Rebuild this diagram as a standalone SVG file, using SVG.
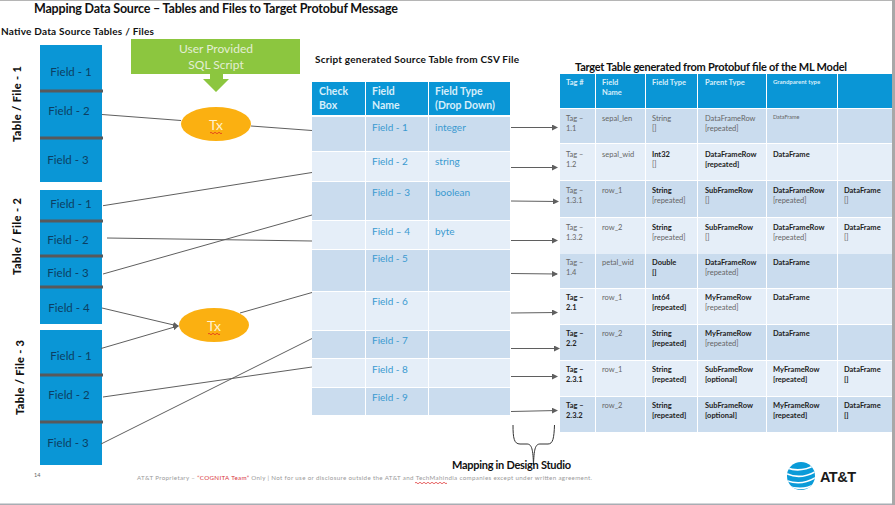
<svg xmlns="http://www.w3.org/2000/svg" width="895" height="505" viewBox="0 0 895 505">
<defs>
<style>
text{font-family:Lato,"Liberation Sans",sans-serif}
.title{font-size:12.5px;font-weight:700;fill:#111}
.sub{font-size:10px;font-weight:700;fill:#111}
.side{font-size:11px;font-weight:900;fill:#111}
.blue{fill:#0a96d6}
.sep{stroke:#58595b;stroke-width:3}
.fld{font-size:11.5px;fill:#0c3f63;text-anchor:middle}
.hc{font-size:10.5px;font-weight:700;fill:#d6eefa}
.d{fill:#cadcee}.l{fill:#e5eef8}.h{fill:#0a96d6}
.c{font-size:10px;fill:#3a9ad0}
.hr{font-size:7.5px;font-weight:700;fill:#d6eefa}
.g{font-size:7.5px;fill:#666}
.b{font-size:7.5px;font-weight:700;fill:#222}
.tx{font-size:14px;fill:#fff3d0;text-anchor:middle}
.cn{fill:none;stroke:#5f5f5f;stroke-width:1}
.squig{fill:none;stroke:#d22;stroke-width:.7}
</style>
<marker id="arr" markerWidth="6" markerHeight="6" refX="5" refY="3" orient="auto" markerUnits="userSpaceOnUse"><path d="M0 0L6 3L0 6Z" fill="#5f5f5f"/></marker>
<clipPath id="globe"><circle cx="801" cy="476" r="14"/></clipPath>
</defs>
<rect width="895" height="505" fill="#fff"/>
<rect x="0" y="0" width="895" height="1" fill="#b5b5b5"/>
<rect x="0" y="503.500" width="895" height="1.500" fill="#a8adb3"/>
<rect x="892" y="0" width="3" height="505" fill="#a8a8a8"/>

<g id="headings">
<text class="title" x="34" y="13" textLength="364">Mapping Data Source – Tables and Files to Target Protobuf Message</text>
<text class="sub" x="1" y="35" textLength="153">Native Data Source Tables / Files</text>
<text class="sub" x="315" y="63" textLength="204">Script generated Source Table from CSV File</text>
<text class="title" style="font-size:11px" x="575" y="71" textLength="272">Target Table generated from Protobuf file of the ML Model</text>
<text class="side" transform="translate(21,142) rotate(-90)" textLength="76">Table / File - 1</text>
<text class="side" transform="translate(21,275) rotate(-90)" textLength="77">Table / File - 2</text>
<text class="side" transform="translate(24,415) rotate(-90)" textLength="75">Table / File - 3</text>
</g>

<g id="table-1">
<rect class="blue" x="40" y="45" width="62" height="137"/>
<line class="sep" x1="40" y1="91" x2="103" y2="91"/><line class="sep" x1="40" y1="138" x2="103" y2="138"/>
<text class="fld" x="71" y="76">Field - 1</text><text class="fld" x="69" y="115">Field - 2</text><text class="fld" x="68" y="164">Field - 3</text>
</g>
<g id="table-2">
<rect class="blue" x="40" y="190" width="62" height="134"/>
<line class="sep" x1="40" y1="221" x2="103" y2="221"/><line class="sep" x1="40" y1="256" x2="103" y2="256"/><line class="sep" x1="40" y1="287" x2="103" y2="287"/>
<text class="fld" x="71" y="208">Field - 1</text><text class="fld" x="68" y="244">Field - 2</text><text class="fld" x="68" y="277">Field - 3</text><text class="fld" x="69" y="312">Field - 4</text>
</g>
<g id="table-3">
<rect class="blue" x="40" y="330" width="62" height="135"/>
<line class="sep" x1="40" y1="375" x2="103" y2="375"/><line class="sep" x1="40" y1="422" x2="103" y2="422"/>
<text class="fld" x="71" y="360">Field - 1</text><text class="fld" x="69" y="399">Field - 2</text><text class="fld" x="68" y="447">Field - 3</text>
</g>

<g id="sql-script">
<path d="M131 39H300V74H223V79H229L216 92L203 79H210V74H131Z" fill="#8cc63f"/>
<text x="216" y="53" text-anchor="middle" font-size="12" fill="#e3eed4">User Provided</text>
<text x="216" y="69" text-anchor="middle" font-size="12" fill="#e3eed4">SQL Script</text>
</g>
<g id="tx-1">
<ellipse cx="216" cy="124" rx="35" ry="17" fill="#fbb011"/>
<text class="tx" x="216" y="130">Tx</text>
<path class="squig" d="M210 133q1 -1.500 2 0t2 0t2 0t2 0t2 0t2 0"/>
</g>
<g id="tx-2">
<ellipse cx="214" cy="325" rx="35" ry="17" fill="#fbb011"/>
<text class="tx" x="214" y="331">Tx</text>
<path class="squig" d="M208 334q1 -1.500 2 0t2 0t2 0t2 0t2 0t2 0"/>
</g>

<g id="source-table">
<rect class="h" x="312" y="82" width="53" height="33"/><rect class="h" x="366" y="82" width="62" height="33"/><rect class="h" x="429" y="82" width="81" height="33"/>
<text class="hc" x="319" y="95">Check</text><text class="hc" x="319" y="109">Box</text>
<text class="hc" x="372" y="95">Field</text><text class="hc" x="372" y="109">Name</text>
<text class="hc" x="435" y="95">Field Type</text><text class="hc" x="435" y="109">(Drop Down)</text>
<rect class="d" x="312" y="117" width="53" height="34"/><rect class="d" x="366" y="117" width="62" height="34"/><rect class="d" x="429" y="117" width="81" height="34"/>
<rect class="l" x="312" y="152" width="53" height="29"/><rect class="l" x="366" y="152" width="62" height="29"/><rect class="l" x="429" y="152" width="81" height="29"/>
<rect class="d" x="312" y="182" width="53" height="38"/><rect class="d" x="366" y="182" width="62" height="38"/><rect class="d" x="429" y="182" width="81" height="38"/>
<rect class="l" x="312" y="221" width="53" height="28"/><rect class="l" x="366" y="221" width="62" height="28"/><rect class="l" x="429" y="221" width="81" height="28"/>
<rect class="d" x="312" y="250" width="53" height="41"/><rect class="d" x="366" y="250" width="62" height="41"/><rect class="d" x="429" y="250" width="81" height="41"/>
<rect class="l" x="312" y="292" width="53" height="38"/><rect class="l" x="366" y="292" width="62" height="38"/><rect class="l" x="429" y="292" width="81" height="38"/>
<rect class="d" x="312" y="331" width="53" height="27"/><rect class="d" x="366" y="331" width="62" height="27"/><rect class="d" x="429" y="331" width="81" height="27"/>
<rect class="l" x="312" y="359" width="53" height="28"/><rect class="l" x="366" y="359" width="62" height="28"/><rect class="l" x="429" y="359" width="81" height="28"/>
<rect class="d" x="312" y="388" width="53" height="27"/><rect class="d" x="366" y="388" width="62" height="27"/><rect class="d" x="429" y="388" width="81" height="27"/>
<text class="c" x="372" y="130.500">Field - 1</text><text class="c" x="435" y="130.500">integer</text>
<text class="c" x="372" y="165">Field - 2</text><text class="c" x="435" y="165">string</text>
<text class="c" x="372" y="195.500">Field – 3</text><text class="c" x="435" y="195.500">boolean</text>
<text class="c" x="372" y="234.500">Field – 4</text><text class="c" x="435" y="234.500">byte</text>
<text class="c" x="372" y="262">Field - 5</text>
<text class="c" x="372" y="305">Field - 6</text>
<text class="c" x="372" y="344">Field - 7</text>
<text class="c" x="372" y="373">Field - 8</text>
<text class="c" x="372" y="401">Field - 9</text>
</g>

<g id="target-table">
<rect class="h" x="560" y="74" width="332" height="34"/>
<rect class="d" x="560" y="109" width="332" height="34"/>
<rect class="l" x="560" y="144" width="332" height="36"/>
<rect class="d" x="560" y="181" width="332" height="36"/>
<rect class="l" x="560" y="218" width="332" height="36"/>
<rect class="d" x="560" y="254" width="332" height="34"/>
<rect class="l" x="560" y="289" width="332" height="35"/>
<rect class="d" x="560" y="325" width="332" height="35"/>
<rect class="l" x="560" y="361" width="332" height="35"/>
<rect class="d" x="560" y="397" width="332" height="35"/>
<path d="M595.500 74V432M645.500 74V432M697.500 74V432M766.500 74V432M837.500 74V432" stroke="#fff" stroke-width="1" fill="none"/>
<text class="hr" x="566" y="85">Tag #</text>
<text class="hr" x="602" y="85">Field</text><text class="hr" x="602" y="95">Name</text>
<text class="hr" x="652" y="85">Field Type</text>
<text class="hr" x="705" y="85">Parent Type</text>
<text class="hr" style="font-size:6px" x="773" y="84">Grandparent type</text>

<text class="g" x="566" y="120.500">Tag –</text><text class="g" x="566" y="130.500">1.1</text>
<text class="g" x="602" y="120.500">sepal_len</text>
<text class="g" x="652" y="120.500">String</text><text class="g" x="652" y="130.500">[]</text>
<text class="g" x="705" y="120.500">DataFrameRow</text><text class="g" x="705" y="130.500">[repeated]</text>
<text class="g" style="font-size:5.500px" x="773" y="119">DataFrame</text>

<text class="g" x="566" y="156.500">Tag –</text><text class="g" x="566" y="166.500">1.2</text>
<text class="g" x="602" y="156.500">sepal_wid</text>
<text class="b" x="652" y="156.500">Int32</text><text class="g" x="652" y="166.500">[]</text>
<text class="b" x="705" y="156.500">DataFrameRow</text><text class="b" x="705" y="166.500">[repeated]</text>
<text class="b" x="773" y="156.500">DataFrame</text>

<text class="g" x="566" y="192.500">Tag –</text><text class="g" x="566" y="202.500">1.3.1</text>
<text class="g" x="602" y="192.500">row_1</text>
<text class="b" x="652" y="192.500">String</text><text class="g" x="652" y="202.500">[repeated]</text>
<text class="b" x="705" y="192.500">SubFrameRow</text><text class="g" x="705" y="202.500">[]</text>
<text class="b" x="773" y="192.500">DataFrameRow</text><text class="g" x="773" y="202.500">[repeated]</text>
<text class="b" x="844" y="192.500">DataFrame</text><text class="g" x="844" y="202.500">[]</text>

<text class="g" x="566" y="229.500">Tag –</text><text class="g" x="566" y="239.500">1.3.2</text>
<text class="g" x="602" y="229.500">row_2</text>
<text class="b" x="652" y="229.500">String</text><text class="g" x="652" y="239.500">[repeated]</text>
<text class="b" x="705" y="229.500">SubFrameRow</text><text class="g" x="705" y="239.500">[]</text>
<text class="b" x="773" y="229.500">DataFrameRow</text><text class="g" x="773" y="239.500">[repeated]</text>
<text class="b" x="844" y="229.500">DataFrame</text><text class="g" x="844" y="239.500">[]</text>

<text class="g" x="566" y="265">Tag –</text><text class="g" x="566" y="275">1.4</text>
<text class="g" x="602" y="265">petal_wid</text>
<text class="b" x="652" y="265">Double</text><text class="b" x="652" y="275">[]</text>
<text class="b" x="705" y="265">DataFrameRow</text><text class="g" x="705" y="275">[repeated]</text>
<text class="b" x="773" y="265">DataFrame</text>

<text class="b" x="566" y="300">Tag –</text><text class="b" x="566" y="310">2.1</text>
<text class="g" x="602" y="300">row_1</text>
<text class="b" x="652" y="300">Int64</text><text class="b" x="652" y="310">[repeated]</text>
<text class="b" x="705" y="300">MyFrameRow</text><text class="g" x="705" y="310">[repeated]</text>
<text class="b" x="773" y="300">DataFrame</text>

<text class="b" x="566" y="336">Tag –</text><text class="b" x="566" y="346">2.2</text>
<text class="g" x="602" y="336">row_2</text>
<text class="b" x="652" y="336">String</text><text class="b" x="652" y="346">[repeated]</text>
<text class="b" x="705" y="336">MyFrameRow</text><text class="g" x="705" y="346">[repeated]</text>
<text class="b" x="773" y="336">DataFrame</text>

<text class="b" x="566" y="372">Tag –</text><text class="b" x="566" y="382">2.3.1</text>
<text class="g" x="602" y="372">row_1</text>
<text class="b" x="652" y="372">String</text><text class="b" x="652" y="382">[repeated]</text>
<text class="b" x="705" y="372">SubFrameRow</text><text class="b" x="705" y="382">[optional]</text>
<text class="b" x="773" y="372">MyFrameRow</text><text class="b" x="773" y="382">[repeated]</text>
<text class="b" x="844" y="372">DataFrame</text><text class="b" x="844" y="382">[]</text>

<text class="b" x="566" y="408">Tag –</text><text class="b" x="566" y="418">2.3.2</text>
<text class="g" x="602" y="408">row_2</text>
<text class="b" x="652" y="408">String</text><text class="b" x="652" y="418">[repeated]</text>
<text class="b" x="705" y="408">SubFrameRow</text><text class="b" x="705" y="418">[optional]</text>
<text class="b" x="773" y="408">MyFrameRow</text><text class="b" x="773" y="418">[repeated]</text>
<text class="b" x="844" y="408">DataFrame</text><text class="b" x="844" y="418">[]</text>
</g>

<g id="connectors">
<path class="cn" d="M102 114.500L181 120.500"/>
<path class="cn" d="M251 126L312 130.500"/>
<path class="cn" d="M103 205.700L312 172.500"/>
<path class="cn" d="M103 274L312 215"/>
<path class="cn" d="M107 238L312 241"/>
<path class="cn" marker-end="url(#arr)" d="M102 308L178 326"/>
<path class="cn" marker-end="url(#arr)" d="M101 348.500L178 326"/>
<path class="cn" d="M240 313L312 292.500"/>
<path class="cn" d="M103 397L312 367"/>
<path class="cn" d="M101 444L312 338.500"/>
<path class="cn" marker-end="url(#arr)" d="M511 127.500L557 127.500"/>
<path class="cn" marker-end="url(#arr)" d="M511 167.500L557 167.500"/>
<path class="cn" marker-end="url(#arr)" d="M511 201L558 201.500"/>
<path class="cn" marker-end="url(#arr)" d="M511 240.500L557 240.500"/>
<path class="cn" marker-end="url(#arr)" d="M511 273.500L557 274"/>
<path class="cn" marker-end="url(#arr)" d="M511 313L557 312.500"/>
<path class="cn" marker-end="url(#arr)" d="M511 348.500L559 348.500"/>
<path class="cn" marker-end="url(#arr)" d="M511 376.500L557 376.500"/>
<path class="cn" marker-end="url(#arr)" d="M511 411.500L557 410.500"/>
</g>

<g id="mapping-brace">
<path d="M513 425C513 438 514 444 520 444H527C532 444 533 450 533.500 465C534 450 535 444 540 444H548C553 444 554 438 554.500 425" fill="none" stroke="#333" stroke-width="1"/>
<text x="452" y="468.500" font-size="11" font-weight="700" fill="#111" textLength="119">Mapping in Design Studio</text>
</g>

<g id="footer">
<text x="34" y="477" font-size="5.500" fill="#666">14</text>
<text x="137" y="480" font-size="6.200" fill="#9a9a9a" textLength="455">AT&amp;T Proprietary – <tspan fill="#d8333a">“COGNITA Team”</tspan> Only | Not for use or disclosure outside the AT&amp;T and TechMahindia companies except under written agreement.</text>
<path class="squig" d="M415 483q1 -1.500 2 0t2 0t2 0t2 0t2 0t2 0t2 0t2 0t2 0t2 0t2 0t2 0t2 0t2 0t2 0t2 0"/>
</g>

<g id="att-logo">
<circle cx="801" cy="476" r="14" fill="#0a9bd8"/>
<g clip-path="url(#globe)" fill="none" stroke="#fff" stroke-width="1.600">
<path d="M785 467Q800 474 817 464"/>
<path d="M785 473Q801 481 818 470"/>
<path d="M785 480Q802 487 818 476"/>
<path d="M787 486Q804 492 817 483"/>
</g>
<text x="820" y="482" font-size="14.500" font-weight="700" fill="#1a1a1a" style="font-family:'Liberation Sans',sans-serif" textLength="36">AT&amp;T</text>
</g>
</svg>
